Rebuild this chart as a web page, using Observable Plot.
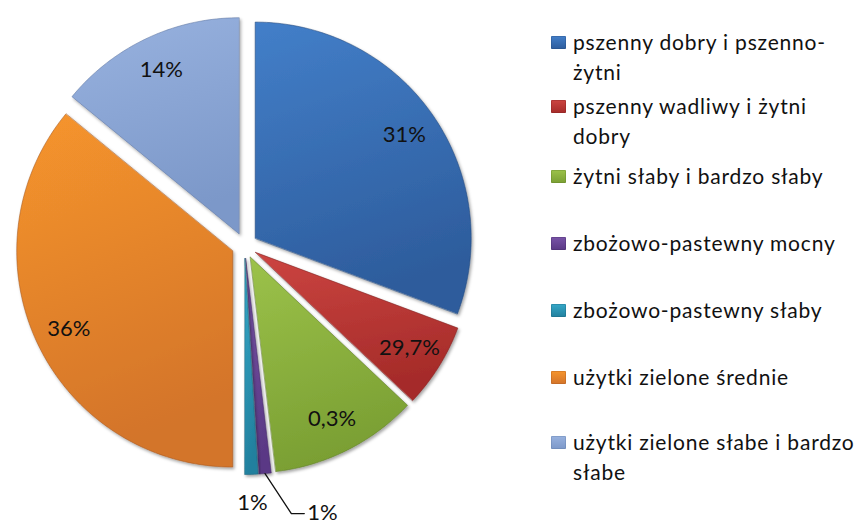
<!DOCTYPE html>
<html>
<head>
<meta charset="utf-8">
<script src="https://cdn.jsdelivr.net/npm/d3@7"></script>
<script src="https://cdn.jsdelivr.net/npm/@observablehq/plot@0.6"></script>
<style>
  html, body { margin: 0; padding: 0; background: #fff; }
  #wrap { position: relative; width: 857px; height: 525px; overflow: hidden; font-family: Lato, "Open Sans", sans-serif; }
  #chart { position: absolute; left: 0; top: 0; }
  .leg { position: absolute; left: 551px; width: 305px; display: flex; align-items: flex-start; }
  .leg .sw { width: 15px; height: 13px; margin-top: 9px; margin-right: 7px; flex: none; border-radius: 1px; }
  .leg .tx { font-size: 21px; letter-spacing: 0.8px; line-height: 30px; color: #111; width: 282px; }
</style>
</head>
<body>
<div id="wrap"><div id="chart"></div></div>
<script>
// ---- data ----
const categories = [
  "pszenny dobry i pszenno-żytni",
  "pszenny wadliwy i żytni dobry",
  "żytni słaby i bardzo słaby",
  "zbożowo-pastewny mocny",
  "zbożowo-pastewny słaby",
  "użytki zielone średnie",
  "użytki zielone słabe i bardzo słabe"
];
const shares = [30.7, 6.33, 11.08, 0.92, 0.97, 35.94, 14.06];
const labels = ["31%", "29,7%", "0,3%", "1%", "1%", "36%", "14%"];

// ---- styles ----
const gradTop = ["#437fc9", "#cc4541", "#9cc24a", "#7954a8", "#35a8c8", "#f6952d", "#98b2df"];
const gradBot = ["#2d5c9c", "#a52b29", "#7a9f33", "#5a3985", "#22809e", "#d3742a", "#7c98c9"];
const edge    = ["#24497c", "#7e2020", "#5d7a27", "#432b64", "#1a6078", "#a5571d", "#5e77a3"];
const legendTops = [27, 91, 161, 228, 295, 362, 427];

// ---- geometry ----
const cx = 244, cy = 245, rPx = 216;
const explode = 13 / rPx;
const total = d3.sum(shares);
const toRad = Math.PI / 180;
let acc = 0;
const slices = shares.map((v, i) => {
  const a0 = acc / total * 360; acc += v;
  const a1 = acc / total * 360;
  const mid = (a0 + a1) / 2;
  const ox = explode * Math.sin(mid * toRad), oy = -explode * Math.cos(mid * toRad);
  return {i, name: categories[i], a0, a1, mid, ox, oy};
});
const pt = (s, a, r) => ({x: s.ox + r * Math.sin(a * toRad), y: s.oy - r * Math.cos(a * toRad)});

const marks = [];
slices.forEach(s => {
  const n = Math.max(3, Math.ceil(s.a1 - s.a0));
  const poly = [{x: s.ox, y: s.oy}];
  for (let k = 0; k <= n; k++) poly.push(pt(s, s.a0 + (s.a1 - s.a0) * k / n, 1));
  marks.push(Plot.line(poly, {x: "x", y: "y", curve: "linear-closed",
    fill: `url(#g${s.i})`, stroke: edge[s.i], strokeOpacity: 0.55, strokeWidth: 1}));
});

const fs = 22;
// inside labels
const inner = slices.filter(s => shares[s.i] > 3).map(s => ({...pt(s, s.mid, 0.84), t: labels[s.i]}));
marks.push(Plot.text(inner, {x: "x", y: "y", text: "t", fontSize: fs, fill: "#111"}));

// teal (outside, below)
const teal = slices[4];
marks.push(Plot.text([{...pt(teal, teal.mid, 1.13), t: labels[4]}], {x: "x", y: "y", text: "t", fontSize: fs, fill: "#111"}));

// purple with leader
const pur = slices[3];
const p0 = pt(pur, pur.mid, 1.0), p1 = pt(pur, pur.mid - 5, 1.2);
const p2 = {x: p1.x + 0.06, y: p1.y};
marks.push(Plot.line([p0, p1, p2], {x: "x", y: "y", stroke: "#111", strokeWidth: 1.3}));
marks.push(Plot.text([{x: p2.x, y: p2.y, t: labels[3]}], {x: "x", y: "y", text: "t", fontSize: fs, fill: "#111", textAnchor: "start", dx: 3, dy: -1}));

const svg = Plot.plot({
  width: 540, height: 525,
  x: {domain: [-1, 1], range: [cx - rPx, cx + rPx], axis: null},
  y: {domain: [-1, 1], range: [cy - rPx, cy + rPx], axis: null},
  style: {fontFamily: "Lato, 'Open Sans', sans-serif", background: "transparent"},
  marks
});

// gradients + shadow
const ns = "http://www.w3.org/2000/svg";
const defs = document.createElementNS(ns, "defs");
let html = `<filter id="sh" x="-10%" y="-10%" width="130%" height="130%"><feDropShadow dx="1.5" dy="2" stdDeviation="1.8" flood-color="#000" flood-opacity="0.35"/></filter>`;
slices.forEach(s => {
  html += `<linearGradient id="g${s.i}" x1="0" y1="0" x2="0.25" y2="1"><stop offset="0" stop-color="${gradTop[s.i]}"/><stop offset="1" stop-color="${gradBot[s.i]}"/></linearGradient>`;
});
defs.innerHTML = html;
svg.insertBefore(defs, svg.firstChild);
d3.select(svg).selectAll("path").filter(function(){ return (this.getAttribute("fill")||"").startsWith("url(#g"); })
  .attr("filter", "url(#sh)");
d3.select(svg).selectAll("g").filter(function(){ return (this.getAttribute("fill")||"").startsWith("url(#g"); })
  .attr("filter", "url(#sh)");
document.getElementById("chart").appendChild(svg);

// legend
const wrap = document.getElementById("wrap");
categories.forEach((c, i) => {
  const d = document.createElement("div");
  d.className = "leg";
  d.style.top = legendTops[i] + "px";
  d.innerHTML = `<div class="sw" style="background:linear-gradient(${gradTop[i]}, ${gradBot[i]});box-shadow: inset 0 0 0 1px ${edge[i]}55"></div><div class="tx">${c}</div>`;
  wrap.appendChild(d);
});
</script>
</body>
</html>
